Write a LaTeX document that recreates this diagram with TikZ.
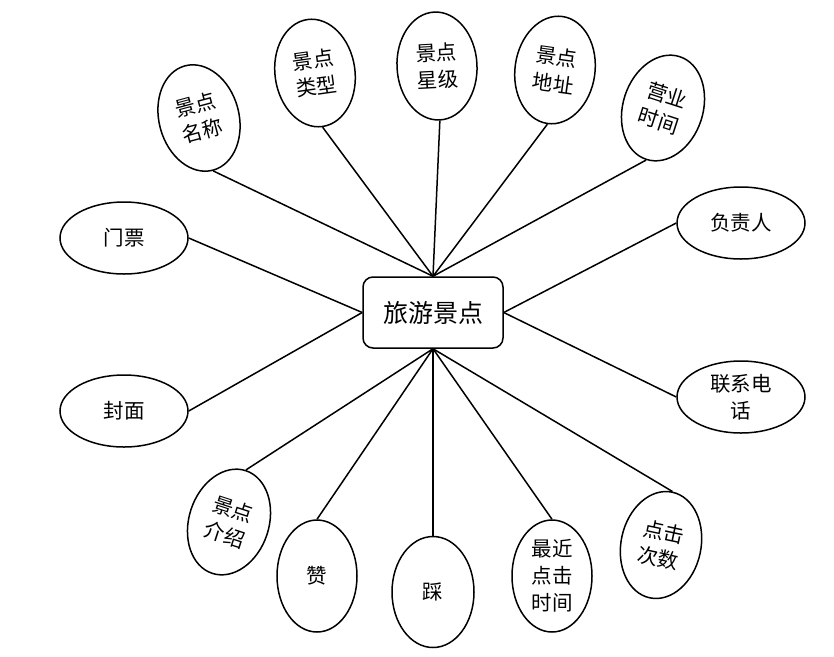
\documentclass[tikz,border=0pt]{standalone}
\usepackage{fontspec}
\setmainfont{Noto Sans CJK SC}
\usetikzlibrary{shapes.geometric}
\begin{document}
\begin{tikzpicture}[x=1pt,y=-1pt,
  attr/.style={draw,ellipse,line width=1.5pt,inner sep=0pt,align=center,
     font=\fontsize{20.5}{27}\selectfont},
  tall/.style={attr,minimum width=80pt,minimum height=108pt},
  wide/.style={attr,minimum width=128pt,minimum height=72pt},
  ent/.style={draw,rounded corners=10pt,line width=1.5pt,minimum width=140pt,
     minimum height=71pt,font=\fontsize{25}{30}\selectfont},
  link/.style={line width=1.5pt}]
\useasboundingbox (0,0) rectangle (834,656);
\node[ent] (c) at (433,312.5) {旅游景点};
\node[tall,rotate=15] (mc) at (199,118) {景点\\名称};
\node[tall,rotate=8] (lx) at (315,73) {景点\\类型};
\node[tall,rotate=3] (xj) at (437,66) {景点\\星级};
\node[tall,rotate=-8] (dz) at (555,70) {景点\\地址};
\node[tall,rotate=-18] (yy) at (663,108) {营业\\时间};
\node[wide] (fz) at (741,223) {负责人};
\node[wide] (dh) at (741,397) {联系电\\话};
\node[wide] (mp) at (124,238) {门票};
\node[wide] (fm) at (124,411) {封面};
\node[tall,rotate=-18] (js) at (229,522) {景点\\介绍};
\node[tall,minimum height=112pt] (zan) at (317,576) {赞};
\node[tall,minimum height=111pt,minimum width=82pt] (cai) at (433,592) {踩};
\node[tall,minimum height=112pt] (zj) at (552,576) {最近\\点击\\时间};
\node[tall,rotate=-12] (cs) at (661,545) {点击\\次数};
\draw[link] (c.north) -- (mc.south);
\draw[link] (c.north) -- (lx.south);
\draw[link] (c.north) -- (xj.south);
\draw[link] (c.north) -- (dz.south);
\draw[link] (c.north) -- (yy.south);
\draw[link] (c.east) -- (fz.west);
\draw[link] (c.east) -- (dh.west);
\draw[link] (c.west) -- (mp.east);
\draw[link] (c.west) -- (fm.east);
\draw[link] (c.south) -- (js.north);
\draw[link] (c.south) -- (zan.north);
\draw[link] (c.south) -- (cai.north);
\draw[link] (c.south) -- (zj.north);
\draw[link] (c.south) -- (cs.north);
\end{tikzpicture}
\end{document}
